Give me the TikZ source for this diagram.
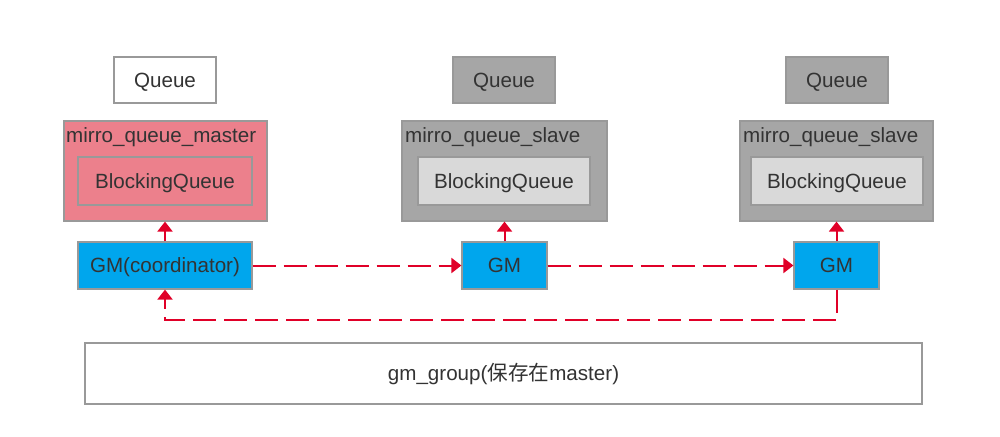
\documentclass[tikz,border=0pt]{standalone}
\usepackage{fontspec}
\setmainfont{Liberation Sans}
\newfontfamily\cjk{Noto Sans CJK SC}
\usetikzlibrary{arrows.meta}
\definecolor{txt}{HTML}{333333}
\definecolor{bord}{HTML}{999999}
\definecolor{pinkf}{RGB}{236,128,140}
\definecolor{grayf}{HTML}{A6A6A6}
\definecolor{lgrayf}{HTML}{D9D9D9}
\definecolor{bluef}{RGB}{0,166,237}
\definecolor{redl}{RGB}{224,0,40}
\tikzset{
  boxbase/.style={draw=bord, line width=1.2pt, inner sep=0pt, text=txt, text height=14.8pt, text depth=0pt, font=\fontsize{20.6}{24}\selectfont},
  whitebox/.style={boxbase, fill=white},
  graybox/.style={boxbase, fill=grayf},
  pinkbox/.style={boxbase, fill=pinkf},
  lgraybox/.style={boxbase, fill=lgrayf},
  bluebox/.style={boxbase, fill=bluef},
  lbl/.style={inner sep=0pt, anchor=west, text=txt, text height=14.8pt, text depth=0pt, font=\fontsize{20.6}{24}\selectfont},
  redarrow/.style={draw=redl, line width=2pt, -{Triangle[width=15pt,length=10pt]}},
  reddash/.style={redarrow, dash pattern=on 23pt off 8pt},
}
\begin{document}
\begin{tikzpicture}[x=1pt,y=-1pt]
\useasboundingbox (0,0) rectangle (1000,436);
% Queues
\node[whitebox, minimum width=102, minimum height=46] (q0) at (165,80) {Queue};
\node[graybox, minimum width=102, minimum height=46] (q1) at (504,80) {Queue};
\node[graybox, minimum width=102, minimum height=46] (q2) at (837,80) {Queue};
% mirror boxes
\node[pinkbox, minimum width=203, minimum height=100] (m0) at (165.5,171) {};
\node[graybox, minimum width=205, minimum height=100] (m1) at (504.5,171) {};
\node[graybox, minimum width=193, minimum height=100] (m2) at (836.5,171) {};
\node[lbl] (m0l) at (66,135) {mirro\_queue\_master};
\node[lbl] (m1l) at (405,135) {mirro\_queue\_slave};
\node[lbl] (m2l) at (743,135) {mirro\_queue\_slave};
% inner blocking queues
\node[pinkbox, minimum width=174, minimum height=48] (b0) at (165,181) {BlockingQueue};
\node[lgraybox, minimum width=172, minimum height=48] (b1) at (504,181) {BlockingQueue};
\node[lgraybox, minimum width=172, minimum height=48] (b2) at (837,181) {BlockingQueue};
% GMs
\node[bluebox, minimum width=174, minimum height=47] (g0) at (165,265.5) {GM(coordinator)};
\node[bluebox, minimum width=85, minimum height=47] (g1) at (504.5,265.5) {GM};
\node[bluebox, minimum width=85, minimum height=47] (g2) at (836.5,265.5) {GM};
% gm_group
\node[whitebox, line width=1.5pt, minimum width=837, minimum height=61] (gg) at (503.5,373.5) {gm\_group({\cjk 保存在}master)};
% connectors
\draw[redarrow] (g0.north) -- (m0.south -| g0.north);
\draw[redarrow] (g1.north) -- (m1.south -| g1.north);
\draw[redarrow] (g2.north) -- (m2.south -| g2.north);
\draw[reddash] (g0.east) -- (g1.west);
\draw[reddash] (g1.east) -- (g2.west);
\coordinate (c1) at (836.5,320);
\coordinate (c2) at (165,320);
\draw[reddash] (g2.south) -- (c1) -- (c2) -- (g0.south);
\end{tikzpicture}
\end{document}
